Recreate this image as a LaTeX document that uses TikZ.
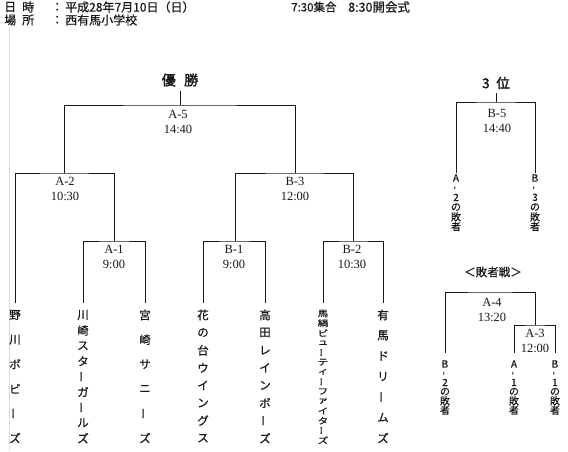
\documentclass[tikz,border=0pt]{standalone}
\usepackage{fontspec}
\setmainfont{Liberation Serif}
\newfontfamily\cjk[FakeBold=0.6]{Noto Sans CJK JP}
\newfontfamily\cjkb[FakeBold=2]{Noto Sans CJK JP}
\newcommand\vbr[1]{\rotatebox[origin=c]{90}{#1}}
\newcommand\plainw[1]{#1}
\newcommand\squashw[1]{\scalebox{1}[0.8]{#1}}
% style, x, y0, step, list, name prefix, wrapper
\newcommand\vtext[7]{%
  \foreach \tchr [count=\ti from 0] in {#5}{%
    \node[#1] (#6\ti) at (#2,{#3+\ti*#4}) {#7{\tchr}};
  }%
}
\begin{document}
\begin{tikzpicture}[x=1pt,y=-1pt,
  line/.style={draw=black!90, line width=0.9pt},
  lbl/.style={font=\fontsize{12.5}{15}\selectfont, align=center, inner sep=0pt, text=black!90},
  tchar/.style={font=\cjk\fontsize{11.5}{11.5}\selectfont, inner sep=0pt, text=black!90},
  sqchar/.style={font=\cjk\fontsize{10.5}{10.5}\selectfont, inner sep=0pt, text=black!90},
  schar/.style={font=\cjk\fontsize{10}{10}\selectfont, inner sep=0pt, text=black!90},
  hdr/.style={font=\cjk\fontsize{12}{12}\selectfont, inner sep=0pt, anchor=west, text=black!90},
  ttl/.style={font=\cjkb\fontsize{14}{14}\selectfont, inner sep=0pt, text=black!90},
]
\useasboundingbox (0,0) rectangle (568,451);
\fill[white] (0,0) rectangle (568,451);

% faint margin line
\coordinate (mtop) at (9,28);
\coordinate (mbot) at (9,451);
\draw[black!15, line width=0.6pt] (mtop) -- (mbot);

% header
\node[hdr] (h1a) at (4,7) {日};
\node[hdr] (h1b) at (22,7) {時};
\node[hdr] (h1c) at (51,7) {：};
\node[hdr] (h1d) at (65,7) {平成28年7月10日（日）};
\node[hdr, font=\cjk\fontsize{11.5}{11.5}\selectfont] (h1e) at (291,7) {7:30集合};
\node[hdr, font=\cjk\fontsize{12.5}{12.5}\selectfont] (h1f) at (348,7) {8:30開会式};
\node[hdr] (h2a) at (4,20) {場};
\node[hdr] (h2b) at (22,20) {所};
\node[hdr] (h2c) at (51,20) {：};
\node[hdr] (h2d) at (65,20) {西有馬小学校};

% main bracket
\node[ttl, inner sep=4pt] (win) at (180,80) {優\hspace{0.6em}勝};
\coordinate (t1) at (15,303);
\coordinate (t2) at (83,303);
\coordinate (t3) at (145,303);
\coordinate (t4) at (203,303);
\coordinate (t5) at (265,303);
\coordinate (t6) at (323,303);
\coordinate (t7) at (383,303);
\coordinate (a1) at (114,241);
\coordinate (b1) at (235,241);
\coordinate (b2) at (353,241);
\coordinate (a2) at (64,173);
\coordinate (b3) at (295,173);
\coordinate (a5) at (180,105);

\draw[line] (t2) |- (a1) -| (t3);
\draw[line] (t4) |- (b1) -| (t5);
\draw[line] (t6) |- (b2) -| (t7);
\draw[line] (t1) |- (a2) -| (a1);
\draw[line] (b1) |- (b3) -| (b2);
\draw[line] (a2) |- (a5) -| (b3);
\draw[line] (a5) -- (win);

\node[lbl] (la5) at (178,121.5) {A-5\\14:40};
\node[lbl] (la2) at (65,188.5) {A-2\\10:30};
\node[lbl] (la1) at (114,257) {A-1\\9:00};
\node[lbl] (lb3) at (295,189) {B-3\\12:00};
\node[lbl] (lb1) at (234,257) {B-1\\9:00};
\node[lbl] (lb2) at (352,257) {B-2\\10:30};

% teams
\vtext{tchar}{15}{315}{24.6}{野,川,ボ,ビ,\vbr{ー},ズ}{ta}{\plainw}
\vtext{tchar}{83}{315}{15.4}{川,崎,ス,タ,\vbr{ー},ガ,\vbr{ー},ル,ズ}{tb}{\plainw}
\vtext{tchar}{145}{315}{24.6}{宮,崎,サ,ニ,\vbr{ー},ズ}{tc}{\plainw}
\vtext{tchar}{203}{315}{17.6}{花,の,台,ウ,イ,ン,グ,ス}{td}{\plainw}
\vtext{tchar}{265}{315}{17.6}{高,田,レ,イ,ン,ボ,\vbr{ー},ズ}{te}{\plainw}
\vtext{sqchar}{323}{313.5}{9.75}{馬,絹,ビ,ュ,\vbr{ー},テ,ィ,\vbr{ー},フ,ァ,イ,タ,\vbr{ー},ズ}{tf}{\squashw}
\vtext{tchar}{383}{315}{20.5}{有,馬,ド,リ,\vbr{ー},ム,ズ}{tg}{\plainw}

% third place
\node[ttl, font=\cjkb\fontsize{13.5}{13.5}\selectfont, inner sep=4pt] (third) at (496,83) {3\hspace{0.5em}位};
\coordinate (c5) at (496,102);
\coordinate (l1) at (456,173);
\coordinate (l2) at (535,173);
\draw[line] (l1) |- (c5) -| (l2);
\draw[line] (c5) -- (third);
\node[lbl] (lb5) at (497,121) {B-5\\14:40};
\vtext{schar}{456}{178}{9.7}{A,\vbr{-},2,の,敗,者}{la}{\plainw}
\vtext{schar}{535}{178}{9.7}{B,\vbr{-},3,の,敗,者}{lb}{\plainw}

% consolation
\node[font=\cjk\fontsize{11.5}{11.5}\selectfont, inner sep=0pt, text=black!90] (cons) at (493,272) {＜敗者戦＞};
\coordinate (d4) at (490,292);
\coordinate (d3) at (535,325);
\coordinate (l3) at (445,353);
\coordinate (l4) at (514,353);
\coordinate (l5) at (555,353);
\draw[line] (l3) |- (d4) -| (d3);
\draw[line] (l4) |- (d3) -| (l5);
\node[lbl] (la4) at (492,309.5) {A-4\\13:20};
\node[lbl] (la3) at (535,340.5) {A-3\\12:00};
\vtext{schar}{445}{364}{9.2}{B,\vbr{-},2,の,敗,者}{lc}{\plainw}
\vtext{schar}{514}{364}{9.2}{A,\vbr{-},1,の,敗,者}{ld}{\plainw}
\vtext{schar}{555}{364}{9.2}{B,\vbr{-},1,の,敗,者}{le}{\plainw}
\end{tikzpicture}
\end{document}
